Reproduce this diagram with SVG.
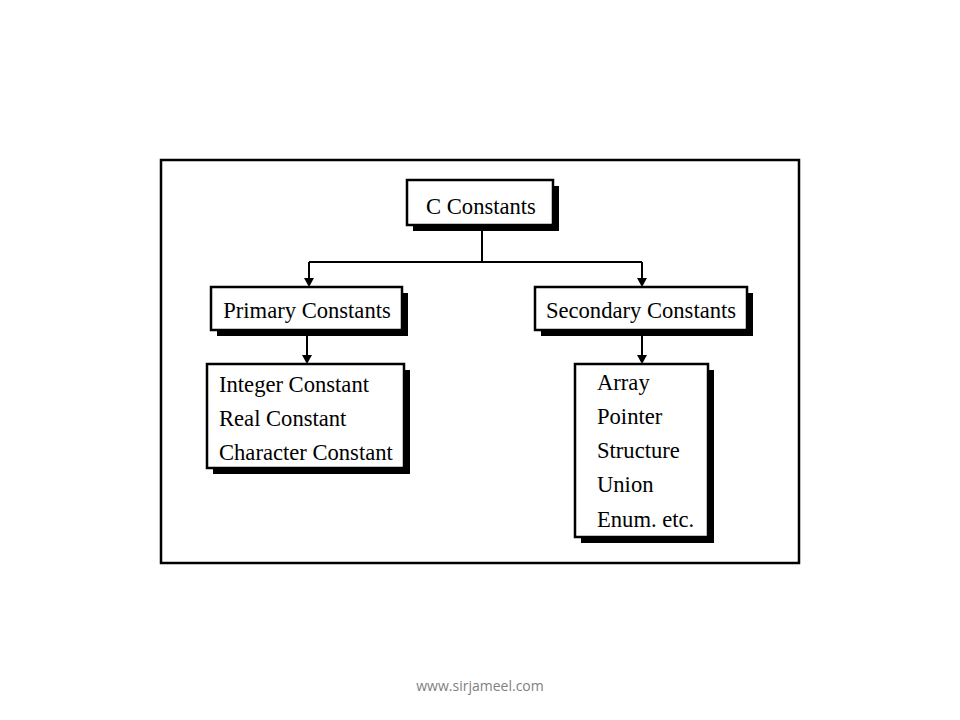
<svg xmlns="http://www.w3.org/2000/svg" width="960" height="720" viewBox="0 0 960 720">
<defs>
<style>
.box{fill:#fff;stroke:#000;stroke-width:2.5}
.sh{fill:#000}
.t{font-family:"Liberation Serif","Times New Roman",serif;font-size:22.6px;fill:#000}
.c{stroke:#000;stroke-width:2;fill:none}
</style>
</defs>
<rect width="960" height="720" fill="#fff"/>
<rect x="161" y="160" width="638" height="403" fill="none" stroke="#000" stroke-width="2.5"/>

<g id="connectors">
<path class="c" d="M482 225 V262"/>
<path class="c" d="M309 262 H642"/>
<path class="c" d="M309 262 V279"/>
<path class="c" d="M642 262 V279"/>
<path class="c" d="M307 330 V356"/>
<path class="c" d="M642 330 V356"/>
<polygon points="304,278 314,278 309,287" fill="#000"/>
<polygon points="637,278 647,278 642,287" fill="#000"/>
<polygon points="302,355 312,355 307,364" fill="#000"/>
<polygon points="637,355 647,355 642,364" fill="#000"/>
</g>

<g id="c-constants">
<rect class="sh" x="413" y="186" width="146" height="45"/>
<rect class="box" x="407" y="180" width="146" height="45"/>
<text class="t" x="481" y="214" text-anchor="middle">C Constants</text>
</g>

<g id="primary">
<rect class="sh" x="217" y="293" width="191" height="43"/>
<rect class="box" x="211" y="287" width="191" height="43"/>
<text class="t" x="307" y="318" text-anchor="middle">Primary Constants</text>
</g>

<g id="secondary">
<rect class="sh" x="541" y="293" width="212" height="43"/>
<rect class="box" x="535" y="287" width="212" height="43"/>
<text class="t" x="641" y="318" text-anchor="middle">Secondary Constants</text>
</g>

<g id="primary-list">
<rect class="sh" x="213" y="370" width="197" height="104"/>
<rect class="box" x="207" y="364" width="197" height="104"/>
<text class="t" x="219" y="392">Integer Constant</text>
<text class="t" x="219" y="426">Real Constant</text>
<text class="t" x="219" y="460">Character Constant</text>
</g>

<g id="secondary-list">
<rect class="sh" x="581" y="370" width="133" height="173"/>
<rect class="box" x="575" y="364" width="133" height="173"/>
<text class="t" x="597" y="390">Array</text>
<text class="t" x="597" y="424">Pointer</text>
<text class="t" x="597" y="458">Structure</text>
<text class="t" x="597" y="492">Union</text>
<text class="t" x="597" y="527">Enum. etc.</text>
</g>

<text x="480" y="691" text-anchor="middle" font-family="'Open Sans','Liberation Sans',sans-serif" font-size="14" fill="#808080">www.sirjameel.com</text>
</svg>
